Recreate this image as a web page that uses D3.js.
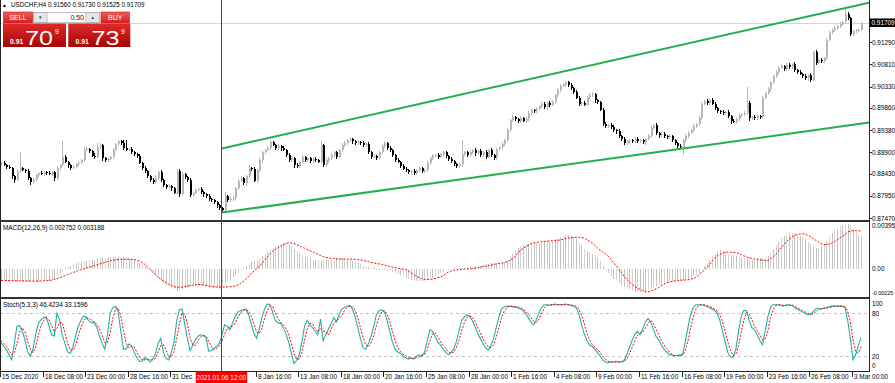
<!DOCTYPE html>
<html><head><meta charset="utf-8">
<script src="https://cdn.jsdelivr.net/npm/d3@7"></script>
<style>
html,body{margin:0;padding:0;background:#fff;overflow:hidden;}
svg{display:block;font-family:"Liberation Sans",Arial,sans-serif;}
</style></head><body>
<svg id="c" width="895" height="383"></svg>
<script>
// ---------------- DATA ----------------
const symbolLabel = "USDCHF,H4";
const lastBarOHLC = [0.91560, 0.91730, 0.91525, 0.91709];
const firstOpen = 0.8866;
const closes = [
0.8867,0.8862,0.8858,0.8856,0.8838,0.8830,0.8849,0.8856,0.8851,0.8849,
0.8834,0.8825,0.8830,0.8841,0.8845,0.8843,0.8847,0.8845,0.8843,0.8847,
0.8834,0.8856,0.8862,0.8880,0.8869,0.8862,0.8856,0.8858,0.8864,0.8867,
0.8873,0.8895,0.8897,0.8893,0.8882,0.8880,0.8901,0.8906,0.8877,0.8873,
0.8875,0.8880,0.8895,0.8908,0.8914,0.8910,0.8899,0.8895,0.8897,0.8890,
0.8886,0.8882,0.8867,0.8856,0.8849,0.8838,0.8830,0.8825,0.8834,0.8847,
0.8830,0.8819,0.8815,0.8817,0.8812,0.8802,0.8849,0.8799,0.8843,0.8836,
0.8830,0.8797,0.8802,0.8808,0.8810,0.8804,0.8799,0.8795,0.8789,0.8786,
0.8782,0.8775,0.8769,0.8765,0.8795,0.8786,0.8789,0.8791,0.8812,0.8828,
0.8834,0.8823,0.8838,0.8856,0.8854,0.8828,0.8851,0.8873,0.8890,0.8895,
0.8899,0.8912,0.8906,0.8899,0.8904,0.8899,0.8895,0.8884,0.8873,0.8877,
0.8862,0.8860,0.8869,0.8880,0.8873,0.8877,0.8871,0.8875,0.8873,0.8869,
0.8906,0.8862,0.8873,0.8877,0.8884,0.8890,0.8880,0.8895,0.8906,0.8910,
0.8916,0.8919,0.8914,0.8910,0.8912,0.8910,0.8906,0.8908,0.8890,0.8880,
0.8882,0.8877,0.8890,0.8904,0.8910,0.8899,0.8895,0.8884,0.8873,0.8869,
0.8860,0.8854,0.8851,0.8847,0.8849,0.8845,0.8851,0.8856,0.8849,0.8851,
0.8867,0.8877,0.8882,0.8884,0.8880,0.8886,0.8890,0.8882,0.8875,0.8871,
0.8864,0.8860,0.8864,0.8886,0.8890,0.8884,0.8890,0.8895,0.8888,0.8893,
0.8884,0.8890,0.8880,0.8895,0.8884,0.8877,0.8897,0.8901,0.8908,0.8916,
0.8938,0.8960,0.8966,0.8962,0.8958,0.8964,0.8958,0.8962,0.8975,0.8982,
0.8979,0.8984,0.8990,0.8995,0.8988,0.8997,0.8993,0.8999,0.9014,0.9025,
0.9034,0.9038,0.9042,0.9036,0.9029,0.9021,0.9008,0.8995,0.8997,0.8993,
0.9010,0.9014,0.9016,0.9003,0.8999,0.8982,0.8951,0.8947,0.8949,0.8945,
0.8938,0.8936,0.8925,0.8919,0.8910,0.8914,0.8916,0.8914,0.8919,0.8914,
0.8916,0.8912,0.8919,0.8925,0.8943,0.8949,0.8932,0.8927,0.8930,0.8925,
0.8923,0.8925,0.8916,0.8910,0.8904,0.8901,0.8916,0.8925,0.8932,0.8938,
0.8947,0.8951,0.8964,0.8995,0.9001,0.8997,0.9003,0.8995,0.8986,0.8979,
0.8977,0.8975,0.8977,0.8969,0.8958,0.8956,0.8962,0.8971,0.8973,0.8975,
0.8997,0.8964,0.8966,0.8964,0.8969,0.8966,0.9008,0.9019,0.9027,0.9042,
0.9055,0.9064,0.9073,0.9077,0.9071,0.9079,0.9075,0.9082,0.9068,0.9064,
0.9060,0.9055,0.9051,0.9058,0.9047,0.9108,0.9084,0.9090,0.9088,0.9095,
0.9134,0.9151,0.9155,0.9160,0.9164,0.9168,0.9173,0.9190,0.9181,0.9147,
0.9153,0.9155,0.9156,0.91709];
// wick extents beyond the body, in pips
const wickHiPips = [
3,4,2,5,3,4,4,34,3,2, 4,3,5,2,3,4,2,3,5,3, 2,4,3,34,4,3,2,5,3,4, 3,5,4,3,2,6,9,4,3,2,
4,3,5,3,4,2,6,17,3,4, 3,2,4,3,5,3,2,4,6,3, 5,3,2,4,3,2,6,5,4,3, 3,4,2,5,3,4,3,2,5,3,
3,2,4,3,8,3,4,5,3,4, 5,3,4,6,3,4,3,5,4,3, 4,6,3,2,4,3,5,3,4,6, 3,4,2,5,3,4,3,2,4,3,
8,3,4,3,5,2,4,3,5,4, 3,4,3,2,4,3,5,3,4,3, 4,3,2,5,4,3,4,3,2,4, 3,4,5,3,2,4,3,5,3,4,
4,3,5,3,4,3,2,4,3,5, 3,4,3,30,4,3,5,3,4,3, 4,3,5,3,4,3,2,4,5,3, 4,3,5,4,3,4,3,5,4,3,
3,4,3,5,4,3,5,4,3,4, 5,3,4,3,4,3,5,4,3,4, 3,4,5,3,4,3,5,4,3,4, 4,3,5,3,4,3,4,3,5,4,
3,4,3,5,4,3,4,3,4,5, 3,4,3,4,3,4,3,4,5,3, 4,3,5,4,3,4,3,5,4,3, 4,5,3,4,3,4,3,4,3,4,
35,4,3,5,4,3,4,3,5,4, 3,4,5,4,3,4,5,3,4,3, 4,3,5,3,4,3,4,3,4,3, 4,3,4,5,3,4,3,11,4,3,
3,3,2,2];
const wickLoPips = [
3,2,4,3,5,6,3,4,2,3, 4,5,3,2,4,3,5,3,2,4, 5,3,4,2,3,5,4,3,2,4, 3,4,2,5,3,4,2,3,5,4,
3,2,4,3,5,3,4,2,3,4, 3,4,2,5,3,4,5,3,4,3, 4,3,5,4,6,3,4,5,3,4, 5,3,4,3,2,4,5,3,4,3,
4,5,3,7,3,4,3,5,4,3, 3,4,5,3,4,3,4,3,5,4, 3,4,2,4,3,5,3,4,3,4, 5,3,4,3,4,3,5,3,4,3,
3,4,3,5,4,3,4,3,4,5, 4,3,5,3,4,3,4,5,3,4, 3,4,3,4,5,3,4,3,4,3, 4,3,4,3,5,4,3,4,3,4,
3,5,4,3,4,3,5,4,3,4, 4,3,4,5,3,4,3,4,5,3, 3,4,5,3,4,3,4,3,5,4, 4,3,4,3,5,4,3,4,3,4,
3,4,3,4,3,5,4,3,4,3, 4,3,5,4,3,4,3,4,5,3, 3,4,3,5,4,3,4,5,3,4, 4,5,3,4,3,4,5,3,4,3,
3,4,5,3,4,3,4,5,3,4, 4,3,4,3,5,4,17,3,4,3, 3,4,3,4,3,5,4,3,4,3, 4,3,4,5,6,3,4,3,5,4,
3,5,4,3,4,3,4,3,4,5, 4,3,4,3,5,4,3,4,3,4, 3,4,3,5,4,3,4,3,5,4, 4,3,4,3,5,4,3,4,3,5,
4,3,3,3.5];
// MACD(12,26,9) main (histogram) and signal, in units of 0.0001
const macdMainE4 = [
-9,-9,-10,-10,-10,-11,-11,-11,-11,-11,-11,-11,-11,-11,-11,-10,-10,-10,-10,
-9,-8,-6,-4,-2, 1,2,3,4,5, 6,6,7,7,8,8,8,9,9,
9,9,10,10,10,10,10,9,10,10,9,9, 8,7,5,4,3,1, -1,-3,-5,-7,-9,
-11,-13,-14,-15,-17,-18,-18,
-17,-16,-16,-15,-15,-14,-14,-14,-14,-15,-15,-15,-16,-16,-17,
-14,-12,-10,-9,-7,-5,-3, 0,2,3,5,6,7,8,9,
11,13,14,16,17,19,20,21,22,22, 21,19,17,15,13,
12,11,10,9,8,8,8,8,8,8,8,8,8,9,9,9,9,8,8,7,6,5,4,3,2,2,1,1,0,0,
0,0,-1,-1,-2, -3,-4,-5,-6,-7, -8,-9,-10,-10,-10,-10,-10,-9, -8,-7,-5,-4,-3,-2,-1,
0,0,1,1,1,1,1,2,2,2, 3,3,3,4,4,4,5,5,5,5,6,6,7, 10,13,16,18,19,20,
21,21,22,22,22,22,22,23,23,23,24,25,26,27, 28,29,29,28,27, 25,22,19,17,
15,14,13,12,10,7, 3,0,-3,-6, -8,-10,-12,-14,-15,-16,-17,-18,-19,-19,-19,
-19,-18,-17,-16,-15, -14,-13,-13,-12,-12,-11,-11,-11,-10,-10, -9,-9,-8,-7,-6,-5,
-3,0,3,5, 8,11,13,15,16, 15,14,13,12,12, 11,10,9,9,9,9,8,8,9,9,9,10,11,
14,17,20,23,26,28,29, 30,30,30,29,28,27, 25,23,21,19,18,18,19,21,24,
27,30,32,34,36,37,38,38,37, 34,31,29,27.52];
const macdSignalE4 = [
-9.4,-9.5,-9.5,-9.6,-9.6,-9.7,-9.7,-9.8,-9.8,-9.9,-9.9,-10,-10,-10,-10,-9.9,-9.8,-9.7,-9.5,
-9.2,-8.6,-8.0,-7.2,-6.4,-5.5,-4.6,-3.7,-2.8,-2.0,
-1.3,-0.6,0.1,0.8,1.5,2.2,2.9,3.6,4.2,4.9,
5.6,6.3,6.9,7.4,7.8,8.1,8.2,8.2,8.2,8.2,
8.1,8.0,7.6,6.9,5.6,4.0,2.0,-0.3,-2.5,-4.7,
-6.8,-8.5,-10.0,-11.4,-12.7,-13.8,-14.6,-15.1,-15.2,-15.0,
-14.6,-14.2,-13.8,-13.4,-13.1,-12.9,-12.9,-13.2,-13.6,-14.1,
-14.6,-14.8,-14.9,-15,-15,-15,-14.9,-14.8,-14.6,-14,
-13.2,-12.0,-10.0,-8.3,-6.0,-3.7,-1.7,0.4,2.5,4.5,
7.5,10.2,12.8,15.1,16.6,18.0,19.3,20.4,21.5,22.0,
21.8,21.4,20.6,19.6,
18.5,17.5,16.5,15.5,14.5,13.5,12.5,11.5,10.5,10,9.5,9,8.8,8.6,8.5,8.4,8.4,8.4,8.4,8.3,8.2,8,7.7,7.3,6.8,6.2,5.7,5.2,4.8,4.4,
3.9,3.4,2.8,2.2,1.7,1.3,0.9,0.5,0.1,-0.3,
-1.7,-3.1,-4.5,-5.9,-7.1,-8.0,-8.5,-8.7,-8.6,-8.3,
-7.8,-7.2,-6.7,-5.4,-3.9,-2.6,-1.6,-1.0,-0.7,-0.4,
-0.2,0,0.1,0.2,0.4,0.8,1.2,1.7,2.1,2.5,
3.0,3.4,3.9,4.3,4.7,5.0,5.5,6.2,7.2,8.6,
10.5,13.0,15.5,17.2,18.7,20.0,21.3,22.0,22.4,22.7,
23.0,23.2,23.4,23.6,23.8,24.0,24.2,24.4,24.9,25.4,
26.0,26.3,26.5,26.7,26.8,26.6,26.0,24.8,23.5,22.0,
20.0,17.8,15.9,14.1,12.9,11.0,8.7,5.6,3.0,0.1,
-2.8,-5.8,-8.5,-10.6,-12.6,-14.5,-15.9,-17.0,-18.0,-18.8,
-19.0,-18.5,-17.5,-16.3,-15.2,-14.0,-12.7,-11.5,-10.9,-10.3,
-9.8,-9.5,-9.3,-9.2,-9.1,-9.0,-8.5,-7.8,-6.9,-5.0,
-3.0,-1.1,1.1,3.5,6.2,9.0,11.2,12.4,13.4,14.1,
14.3,14.2,14.0,13.8,13.2,12.2,11.1,10.2,9.6,9.0,
8.5,8.1,7.8,7.5,7.2,7.3,8.6,10.2,12.3,15.0,
17.8,20.6,23.1,25.1,26.8,28.2,29.0,29.4,29.6,29.3,
28.4,27.2,25.7,24.2,22.7,21.3,20.6,20.5,21.0,21.8,
23.0,24.4,25.9,27.4,29.2,31.0,31.8,32.3,32.3,32.1,31.88];
// Stochastic(5,3,3)
const stochK = [
39,34,29,22,15,38,62,63,55,43, 26,20,30,50,66,71,74,75,63,50, 48,80,72,50,38,26,24,33,48,62,
70,76,75,69,67,67,60,48,38,30, 50,80,88,90,82,55,30,30,37,35, 26,18,13,13,18,16,12,16,23,38,
45,25,17,15,26,40,70,85,86,65, 45,28,35,43,48,50,49,46,27,28, 31,34,38,50,64,62,57,67,76,82,
84,85,86,78,65,52,45,58,74,86, 93,92,82,70,67,66,60,52,40,25, 10,14,
22,40,62,70,64,60,55,50,
72,42,50,58,66,74,68,78,86,88, 90,91,86,75,60,45,32,30,38,48, 62,78,84,85,82,70,55,40,30,26,
24,20,18,16,18,16,20,22,20,25, 40,57,55,48,40,36,30,26,22,25, 30,40,55,70,75,78,76,70,62,52,
45,38,32,29,35,45,60,75,86,89, 90,90,89,89,88,86,84,80,74,68, 64,70,80,88,92,92,91,92,93,92,
92,92,93,92,91,90,88,80,65,52, 42,36,34,30,25,20,15,12,11,12, 12,13,12,12,14,22,32,42,50,55,
50,58,68,73,68,58,48,43,36,30, 26,22,22,20,21,22,22,40,60,78, 88,92,92,92,91,90,88,86,84,80,
70,55,40,25,19,19,30,55,75,84, 84,70,60,57,50,42,36,55,75,88, 92,92,92,91,90,92,92,91,88,86,
84,82,80,78,78,82,86,87,86,87, 88,89,90,90,90,90,90,88,70,45, 15,22,35,46.4234];
const stochD = [
42,38,34,28,22,25,38,54,60,54, 41,30,25,33,49,62,70,73,71,63, 54,59,67,67,53,38,29,28,35,48,
60,69,74,73,70,68,65,58,49,39, 39,53,73,86,87,76,56,38,32,34, 33,26,19,15,15,16,15,15,17,26,
35,36,29,19,19,27,45,65,80,79, 65,46,36,35,42,47,49,48,41,34, 29,31,34,41,51,59,61,62,67,75,
81,84,85,83,76,65,54,52,59,73, 84,90,89,81,73,68,64,59,51,39, 25,16,
16,26,42,58,66,65,59,54,
59,55,55,50,58,66,69,73,77,84, 88,90,89,84,74,60,46,36,33,39, 49,63,75,82,84,79,69,55,42,32,
27,23,21,18,17,17,18,19,21,22, 28,41,51,53,48,41,35,31,26,24, 26,32,42,55,67,74,76,75,69,61,
53,45,38,33,32,36,47,60,74,83, 88,90,90,89,89,88,86,83,79,74, 69,67,71,79,87,91,92,92,92,92,
92,92,92,92,92,91,90,86,78,66, 53,43,37,33,30,25,20,16,13,12, 12,12,12,12,13,16,23,32,41,49,
52,54,59,66,70,66,58,50,42,36, 31,26,23,21,21,21,22,28,41,59, 75,86,91,92,92,91,90,88,86,83,
78,68,55,40,28,21,23,35,53,71, 81,79,71,62,56,50,43,44,55,73, 85,91,92,92,91,91,91,92,90,88,
86,84,82,80,79,79,82,85,86,87, 87,88,89,90,90,90,90,89,83,68, 43,27,24,33.1596];

const priceTicks = [0.91290,0.90810,0.90330,0.89860,0.89380,0.88900,0.88430,0.87950,0.87470];
const macdTicks = [0.00395, 0.00, -0.00225];
const macdTickLabels = ["0.00395","0.00","-0.00225"];
const stochTicks = [100, 80, 20, 0];
const stochLevels = [80, 20];
const timeTickBars = [0,16,32,48,64,80,96,112,128,144,160,176,192,208,224,240,256,272,288,304,320];
const timeTickLabels = ["15 Dec 2020","18 Dec 08:00","23 Dec 00:00","28 Dec 16:00","31 Dec 08:00","6 Jan 00:00",
 "8 Jan 16:00","13 Jan 08:00","18 Jan 00:00","20 Jan 16:00","25 Jan 08:00","28 Jan 00:00","1 Feb 16:00",
 "4 Feb 08:00","9 Feb 00:00","11 Feb 16:00","16 Feb 08:00","19 Feb 00:00","23 Feb 16:00","26 Feb 08:00","3 Mar 00:00"];
const crossBar = 83;
const crossLabel = "2021.01.06 12:00";
const channelUpper = [[83, 0.88985], [319, 0.92059]];
const channelLower = [[83, 0.87594], [319, 0.89491]];
const sellPrice = ["0.91", "70", "9"];
const buyPrice = ["0.91", "73", "9"];
const lotSize = "0.50";

// ---------------- LAYOUT ----------------
const PR = 869;
const MAIN = [0, 219.5], MACD = [222, 296], STO = [298.5, 371];
const FS = 6.4;

const svg = d3.select("#c");
const defs = svg.append("defs");
function vgrad(id, a, b) {
  const g = defs.append("linearGradient").attr("id", id).attr("x1",0).attr("y1",0).attr("x2",0).attr("y2",1);
  g.append("stop").attr("offset","0%").attr("stop-color",a);
  g.append("stop").attr("offset","100%").attr("stop-color",b);
}
vgrad("gBtn", "#f25a5a", "#d81f1f");
vgrad("gBig", "#de2b2b", "#a60404");
function clip(id, y0, y1) {
  defs.append("clipPath").attr("id", id).append("rect").attr("x",0).attr("y",y0).attr("width",PR).attr("height",y1-y0);
}
clip("cMain", MAIN[0], MAIN[1]); clip("cMacd", MACD[0], MACD[1]); clip("cSto", STO[0], STO[1]);

const N = Math.min(closes.length, wickHiPips.length, wickLoPips.length);
const opens = closes.map((c,i) => i === 0 ? firstOpen : closes[i-1]);
const highs = closes.map((c,i) => Math.max(opens[i], c) + wickHiPips[i]/10000);
const lows  = closes.map((c,i) => Math.min(opens[i], c) - wickLoPips[i]/10000);

const xs = d3.scaleLinear().domain([0, 323]).range([1, 861]);
const yp = d3.scaleLinear().domain([0.87470, 0.91290]).range([218.3, 42.3]);
const ym = d3.scaleLinear().domain([-0.00225, 0.00395]).range([296, 222]);
const yst = d3.scaleLinear().domain([0, 100]).range([370.6, 299]);

svg.append("rect").attr("width",895).attr("height",383).attr("fill","#fff");

// ---- main panel
const gm = svg.append("g").attr("clip-path","url(#cMain)");
const yBid = Math.round(yp(lastBarOHLC[3]));
gm.append("rect").attr("x",0).attr("y",yBid).attr("width",PR).attr("height",1).attr("fill","#d6d6d6");
const cg = gm.append("g").attr("shape-rendering","crispEdges");
for (let i = 0; i < N; i++) {
  const xc = Math.round(xs(i));
  const up = closes[i] >= opens[i];
  const col = up ? "#b8b8b8" : "#000";
  const yh = yp(highs[i]), yl = yp(lows[i]);
  cg.append("rect").attr("x", xc).attr("y", yh).attr("width", 1).attr("height", Math.max(1, yl - yh)).attr("fill", col);
  const yo = yp(opens[i]), yc = yp(closes[i]);
  const top = Math.min(yo, yc), h = Math.max(1, Math.abs(yo - yc));
  cg.append("rect").attr("x", xc).attr("y", top).attr("width", 2).attr("height", h).attr("fill", col);
}
function chan(a) {
  const [b1,p1] = a[0], [b2,p2] = a[1];
  const slope = (p2-p1)/(b2-b1);
  const bEnd = xs.invert(PR);
  gm.append("line").attr("x1", xs(b1)).attr("y1", yp(p1)).attr("x2", xs(bEnd)).attr("y2", yp(p1 + slope*(bEnd-b1)))
    .attr("stroke","#22b04a").attr("stroke-width",2);
}
chan(channelUpper); chan(channelLower);

// ---- MACD panel
const gmc = svg.append("g").attr("clip-path","url(#cMacd)").attr("shape-rendering","crispEdges");
const macdMain = macdMainE4.map(v => v/10000), macdSig = macdSignalE4.map(v => v/10000);
macdMain.forEach((v,i) => {
  const xc = Math.round(xs(i));
  const y0 = ym(0), y1 = ym(v);
  gmc.append("rect").attr("x", xc).attr("y", Math.min(y0,y1)).attr("width",1).attr("height", Math.max(1, Math.abs(y1-y0)))
    .attr("fill", i % 2 ? "#d2d2d2" : "#c2c2c2");
});
svg.append("g").attr("clip-path","url(#cMacd)").append("path").datum(macdSig).attr("fill","none").attr("stroke","#ff0000").attr("stroke-width",1)
  .attr("stroke-dasharray","2,1.5")
  .attr("d", d3.line().x((d,i)=>xs(i)).y(d=>ym(d)));

// ---- Stoch panel
const gs = svg.append("g").attr("clip-path","url(#cSto)");
stochLevels.forEach(l => {
  gs.append("line").attr("x1",0).attr("x2",PR).attr("y1",Math.round(yst(l))+0.5).attr("y2",Math.round(yst(l))+0.5)
    .attr("stroke","#c4c4c4").attr("stroke-dasharray","3,3");
});
gs.append("path").datum(stochK).attr("fill","none").attr("stroke","#20b2aa").attr("stroke-width",1.1)
  .attr("d", d3.line().x((d,i)=>xs(i)).y(d=>yst(d)));
gs.append("path").datum(stochD).attr("fill","none").attr("stroke","#ff0000").attr("stroke-width",1)
  .attr("stroke-dasharray","2,1.5")
  .attr("d", d3.line().x((d,i)=>xs(i)).y(d=>yst(d)));

// ---- frames
const fr = svg.append("g").attr("shape-rendering","crispEdges");
fr.append("rect").attr("x",0).attr("y",0).attr("width",1).attr("height",371).attr("fill","#222");
fr.append("rect").attr("x",PR).attr("y",0).attr("width",1).attr("height",372).attr("fill","#222");
fr.append("rect").attr("x",0).attr("y",219.5).attr("width",PR+1).attr("height",2).attr("fill","#333");
fr.append("rect").attr("x",0).attr("y",296.5).attr("width",PR+1).attr("height",2).attr("fill","#333");
fr.append("rect").attr("x",0).attr("y",371).attr("width",PR+1).attr("height",1).attr("fill","#222");

// crosshair (red)
const cx = Math.round(xs(crossBar)) - 1;
svg.append("rect").attr("x",cx).attr("y",0).attr("width",1).attr("height",371).attr("fill","#ff0000")
  .attr("shape-rendering","crispEdges");

// ---- right axis labels
const ax = svg.append("g").attr("font-size", FS).attr("fill","#000");
priceTicks.forEach(v => {
  const y = yp(v);
  ax.append("rect").attr("x",PR+1).attr("y",Math.round(y)).attr("width",2).attr("height",1).attr("fill","#222");
  ax.append("text").attr("x",PR+3).attr("y",y+2.3).text(v.toFixed(5));
});
const yb = yp(lastBarOHLC[3]);
ax.append("rect").attr("x",PR+1).attr("y",yb-4.5).attr("width",25).attr("height",8.5).attr("fill","#000");
ax.append("text").attr("x",PR+2.5).attr("y",yb+2.3).attr("fill","#fff").text(lastBarOHLC[3].toFixed(5));
macdTicks.forEach((v,k) => {
  const y = Math.max(225.5, Math.min(293, ym(v)));
  const lab = macdTickLabels[k];
  ax.append("text").attr("x",PR+3).attr("y",y+2.1).attr("font-size", lab.length > 7 ? 5.4 : FS).text(lab);
});
stochTicks.forEach(v => {
  const y = Math.max(303.3, Math.min(365.7, yst(v)));
  ax.append("text").attr("x",PR+3).attr("y",y+2.3).text(v);
});

// ---- time axis
const tx = svg.append("g").attr("font-size", FS).attr("fill","#000");
const boxW = 51.5, boxX = cx + 0.5 - boxW/2;
const measure = svg.append("text").attr("font-size",FS).attr("x",-999).attr("y",-999);
timeTickBars.forEach((b,k) => {
  const x = Math.round(xs(b)) - 1;
  tx.append("rect").attr("x",x).attr("y",372).attr("width",1).attr("height",5).attr("fill","#222");
  let label = timeTickLabels[k];
  const x0 = x + 2;
  measure.text(label);
  let w = measure.node().getComputedTextLength();
  if (x0 + w > boxX - 1 && x0 < boxX + boxW + 1) {
    // partially hidden under the crosshair date box: keep only the visible part
    while (label.length && x0 + measure.text(label).node().getComputedTextLength() > boxX - 1) label = label.slice(0, -1);
  }
  if (label.length) tx.append("text").attr("x",x0).attr("y",379.3).text(label);
});
measure.remove();
tx.append("rect").attr("x",boxX).attr("y",371.5).attr("width",boxW).attr("height",11.5).attr("fill","#ff0000");
tx.append("text").attr("x",boxX + boxW/2).attr("y",379.6).attr("text-anchor","middle").attr("fill","#fff").text(crossLabel);

// ---- indicator titles
svg.append("text").attr("x",3).attr("y",229.6).attr("font-size",FS).attr("fill","#000")
  .text(`MACD(12,26,9) ${macdMain[macdMain.length-1].toFixed(6)} ${macdSig[macdSig.length-1].toFixed(6)}`);
svg.append("text").attr("x",3).attr("y",306.6).attr("font-size",FS).attr("fill","#000")
  .text(`Stoch(5,3,3) ${stochK[stochK.length-1].toFixed(4)} ${stochD[stochD.length-1].toFixed(4)}`);

// ---- header
svg.append("text").attr("x",2).attr("y",6.6).attr("font-size",5).attr("fill","#000").text("▲");
svg.append("text").attr("x",11).attr("y",6.8).attr("font-size",6.3).attr("fill","#000")
  .text(`${symbolLabel}  ${lastBarOHLC.map(v=>v.toFixed(5)).join(" ")}`);

// ---- one-click trading panel
const tp = svg.append("g");
tp.append("rect").attr("x",3.5).attr("y",12).attr("width",29).attr("height",11).attr("fill","url(#gBtn)").attr("stroke","#c41a1a").attr("stroke-width",0.6);
tp.append("text").attr("x",18).attr("y",20.3).attr("text-anchor","middle").attr("font-size",7).attr("fill","#fff").text("SELL");
tp.append("rect").attr("x",33.5).attr("y",12.5).attr("width",66).attr("height",10).attr("fill","#fff").attr("stroke","#a8a8a8").attr("stroke-width",0.7);
tp.append("rect").attr("x",33.5).attr("y",12.5).attr("width",13.5).attr("height",10).attr("fill","#e6e6e6").attr("stroke","#a8a8a8").attr("stroke-width",0.7);
tp.append("rect").attr("x",86).attr("y",12.5).attr("width",13.5).attr("height",10).attr("fill","#e6e6e6").attr("stroke","#a8a8a8").attr("stroke-width",0.7);
tp.append("text").attr("x",40.2).attr("y",19.3).attr("text-anchor","middle").attr("font-size",4.5).attr("fill","#333").text("▼");
tp.append("text").attr("x",92.8).attr("y",19.3).attr("text-anchor","middle").attr("font-size",4.5).attr("fill","#333").text("▲");
tp.append("text").attr("x",84).attr("y",20.3).attr("text-anchor","end").attr("font-size",7).attr("fill","#222").text(lotSize);
tp.append("rect").attr("x",101).attr("y",12).attr("width",28.5).attr("height",11).attr("fill","url(#gBtn)").attr("stroke","#c41a1a").attr("stroke-width",0.6);
tp.append("text").attr("x",115.3).attr("y",20.3).attr("text-anchor","middle").attr("font-size",7).attr("fill","#fff").text("BUY");
function bigBox(x, w, parts, xs0, xs1, xs2) {
  tp.append("rect").attr("x",x).attr("y",23.5).attr("width",w).attr("height",23.5).attr("fill","url(#gBig)");
  tp.append("text").attr("x",xs0).attr("y",44).attr("font-size",6.8).attr("font-weight","bold").attr("fill","#fff").text(parts[0]);
  tp.append("text").attr("x",xs1).attr("y",45.2).attr("font-size",21).attr("fill","#fff")
    .attr("textLength",28).attr("lengthAdjust","spacingAndGlyphs").text(parts[1]);
  tp.append("text").attr("x",xs2).attr("y",34.3).attr("font-size",7).attr("fill","#fff").text(parts[2]);
}
bigBox(3, 63, sellPrice, 10, 25, 55);
bigBox(68.3, 62, buyPrice, 75.5, 91.5, 121);
</script>
</body></html>
